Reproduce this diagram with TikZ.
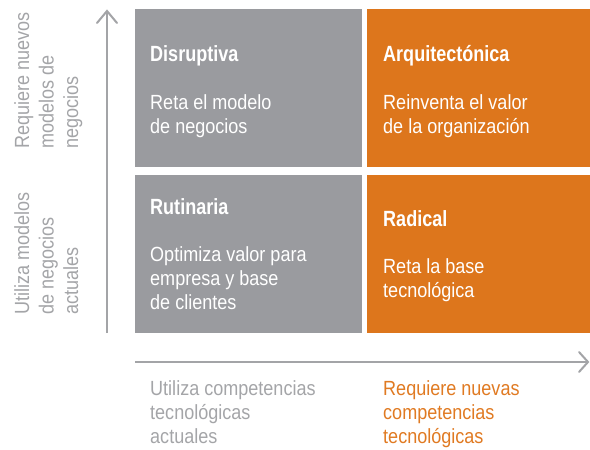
\documentclass[tikz,border=0pt]{standalone}
\usepackage{fontspec}
\setmainfont{Liberation Sans}[FakeStretch=0.88]
\newfontfamily\titlefamily{Liberation Sans}[FakeStretch=0.82]
\definecolor{boxgray}{HTML}{9A9B9F}
\definecolor{boxorange}{HTML}{DD761C}
\definecolor{axisgray}{HTML}{A3A4A7}
\definecolor{labelgray}{HTML}{A4A5A8}
\definecolor{labelorange}{HTML}{E07A22}
\begin{document}
\begin{tikzpicture}[x=1bp,y=-1bp,
  quad/.style={draw=none,inner sep=0pt,outer sep=0pt},
  title/.style={anchor=base west,inner sep=0pt,text=white,font=\titlefamily\bfseries\fontsize{22bp}{26bp}\selectfont},
  body/.style={anchor=base west,inner sep=0pt,text=white,font=\fontsize{20.5bp}{23bp}\selectfont},
  sidelbl/.style={anchor=base west,inner sep=0pt,rotate=90,text=labelgray,font=\fontsize{20.5bp}{23bp}\selectfont},
  botgray/.style={anchor=base west,inner sep=0pt,text=labelgray,font=\fontsize{20.5bp}{23bp}\selectfont},
  botorange/.style={anchor=base west,inner sep=0pt,text=labelorange,font=\fontsize{20.5bp}{23bp}\selectfont},
  axis/.style={draw=axisgray,line width=2.6bp},
  chev/.style={draw=axisgray,line width=2bp,line cap=round,line join=miter}]
\useasboundingbox (0,0) rectangle (590,450);
% quadrants
\fill[boxgray]   (135,9)   rectangle (362,167);
\fill[boxorange] (367,9)   rectangle (590,167);
\fill[boxgray]   (135,175) rectangle (362,333);
\fill[boxorange] (367,175) rectangle (590,333);
% top-left
\node[title] (t1) at (150,62) {Disruptiva};
\node[body] (b1a) at (150,110) {Reta el modelo};
\node[body] (b1b) at (150,133.3) {de negocios};
% top-right
\node[title] (t2) at (383,62) {Arquitectónica};
\node[body] (b2a) at (383,110) {Reinventa el valor};
\node[body] (b2b) at (383,133.3) {de la organización};
% bottom-left
\node[title] (t3) at (150,215) {Rutinaria};
\node[body] (b3a) at (150,262) {Optimiza valor para};
\node[body] (b3b) at (150,285.5) {empresa y base};
\node[body] (b3c) at (150,309) {de clientes};
% bottom-right
\node[title] (t4) at (383,227) {Radical};
\node[body] (b4a) at (383,274) {Reta la base};
\node[body] (b4b) at (383,297.5) {tecnológica};
% axes
\coordinate (vs) at (107,333);
\coordinate (ve) at (107,11);
\coordinate (hs) at (135,362);
\coordinate (he) at (588,362);
\draw[axis] (vs) -- (ve);
\draw[chev] ([xshift=-10bp,yshift=-12bp]ve) -- (ve) -- ([xshift=10bp,yshift=-12bp]ve);
\draw[axis] (hs) -- (he);
\draw[chev] ([xshift=-9bp,yshift=10bp]he) -- (he) -- ([xshift=-9bp,yshift=-10bp]he);
% side labels
\node[sidelbl] (s1) at (29,149) {Requiere nuevos};
\node[sidelbl] (s2) at (53.5,149) {modelos de};
\node[sidelbl] (s3) at (78,149) {negocios};
\node[sidelbl] (s4) at (29,315) {Utiliza modelos};
\node[sidelbl] (s5) at (53.5,315) {de negocios};
\node[sidelbl] (s6) at (78,315) {actuales};
% bottom labels
\node[botgray] (g1) at (150,395) {Utiliza competencias};
\node[botgray] (g2) at (150,419) {tecnológicas};
\node[botgray] (g3) at (150,443) {actuales};
\node[botorange] (o1) at (383,395) {Requiere nuevas};
\node[botorange] (o2) at (383,419) {competencias};
\node[botorange] (o3) at (383,443) {tecnológicas};
\end{tikzpicture}
\end{document}
